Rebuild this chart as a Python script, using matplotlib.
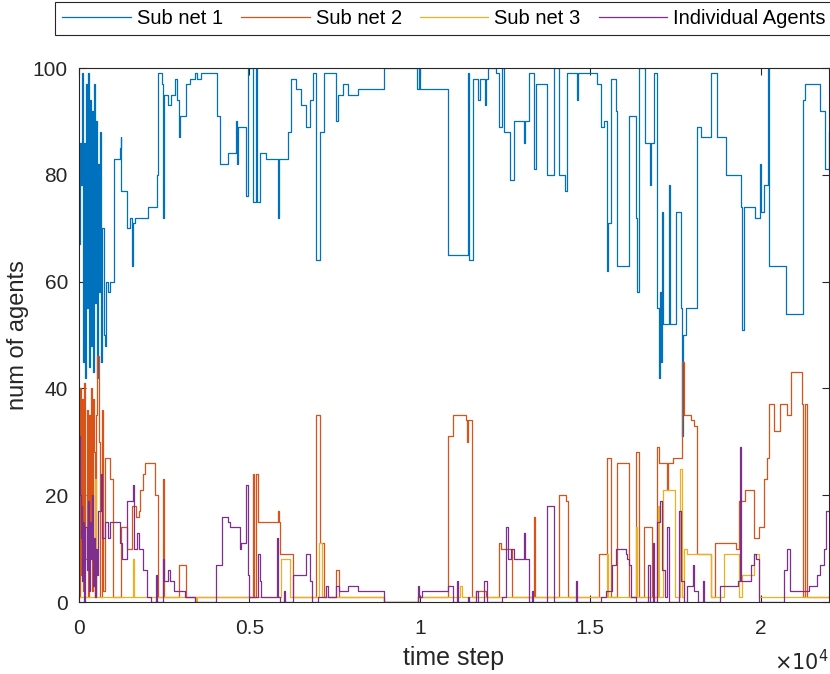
import matplotlib.pyplot as plt
import numpy as np

plt.rcParams['font.family'] = ['Liberation Sans', 'DejaVu Sans']

# (time step, number of agents) change points
subnet1 = [
    (0, 67), (30, 86), (60, 78), (80, 99), (110, 45), (140, 86), (170, 42), (200, 97),
    (230, 55), (260, 99), (290, 44), (320, 94), (350, 48), (380, 92), (410, 43), (440, 97),
    (470, 56), (500, 90), (530, 42), (560, 82), (590, 58), (620, 88), (650, 45), (680, 70),
    (720, 50), (760, 48), (800, 60), (860, 58), (900, 60), (1025, 83), (1200, 85), (1220, 87),
    (1240, 77), (1415, 70), (1500, 72), (1560, 63), (1580, 71), (1640, 72), (2010, 74),
    (2274, 80), (2303, 99), (2440, 97), (2469, 72), (2499, 95), (2600, 93), (2700, 95),
    (2811, 98), (2860, 94), (2928, 87), (2958, 91), (3133, 97), (3250, 98), (3400, 99),
    (3450, 98), (3592, 99), (4060, 91), (4148, 82), (4372, 84), (4600, 90), (4640, 82),
    (4665, 89), (4909, 76), (4958, 100), (5104, 75), (5202, 100), (5231, 75), (5300, 84),
    (5495, 83), (5830, 72), (5860, 83), (6129, 88), (6227, 98), (6373, 96), (6520, 93),
    (6666, 89), (6764, 94), (6861, 99), (6959, 64), (7077, 88), (7174, 99), (7545, 90),
    (7593, 95), (7740, 97), (7886, 95), (8179, 96), (8960, 100), (9900, 96), (9960, 100),
    (10000, 96), (10814, 65), (11400, 99), (11448, 64), (11565, 98), (11700, 94), (11760, 98),
    (11900, 93), (11950, 98), (11985, 100), (12229, 99), (12327, 89), (12405, 100),
    (12473, 88), (12640, 79), (12766, 90), (13059, 86), (13080, 90), (13205, 99), (13352, 81),
    (13401, 97), (13742, 80), (13937, 100), (14084, 80), (14260, 77), (14300, 80),
    (14327, 99), (14601, 94), (14630, 99), (15206, 97), (15304, 89), (15401, 90), (15499, 62),
    (15530, 71), (15616, 98), (15743, 92), (15792, 63), (16133, 91), (16329, 72), (16380, 58),
    (16426, 100), (16593, 86), (16748, 78), (16780, 86), (16865, 99), (16962, 55),
    (17000, 42), (17040, 58), (17080, 45), (17109, 73), (17140, 52), (17304, 78), (17330, 52),
    (17500, 73), (17646, 55), (17700, 31), (17730, 50), (17792, 55), (18134, 89), (18232, 87),
    (18525, 99), (18720, 87), (18964, 80), (19404, 74), (19440, 51), (19501, 74), (19843, 72),
    (19970, 82), (20000, 73), (20086, 78), (20213, 100), (20232, 63), (20740, 54),
    (21236, 94), (21306, 97), (21745, 92), (21891, 81), (22000, 88),
]

subnet2 = [
    (0, 1), (30, 40), (60, 5), (90, 38), (110, 30), (130, 2), (160, 41), (190, 8), (220, 36),
    (250, 1), (280, 35), (310, 12), (340, 40), (370, 2), (400, 38), (430, 28), (460, 1),
    (500, 35), (540, 46), (580, 30), (620, 1), (660, 36), (700, 2), (760, 27), (900, 23),
    (1000, 1), (1230, 14), (1400, 10), (1560, 18), (1680, 16), (1750, 17), (1800, 21),
    (1880, 24), (1950, 26), (2225, 20), (2310, 1), (2460, 23), (2490, 1), (2930, 7),
    (3150, 1), (5100, 24), (5140, 1), (5200, 24), (5250, 15), (5850, 17), (5880, 15),
    (5885, 9), (6275, 1), (6960, 35), (7056, 11), (7200, 1), (7545, 6), (7640, 1),
    (8960, 0), (9936, 1), (10814, 31), (10960, 35), (11350, 34), (11390, 30), (11420, 34),
    (11540, 1), (11645, 2), (11937, 1), (12307, 11), (12376, 10), (12710, 1), (13340, 16),
    (13370, 1), (14084, 20), (14280, 19), (14330, 1), (15255, 9), (15500, 27), (15597, 1),
    (15792, 26), (16130, 1), (16330, 28), (16425, 1), (16570, 14), (16815, 1), (16960, 29),
    (17010, 26), (17250, 21), (17280, 26), (17430, 27), (17690, 45), (17745, 35), (17940, 34),
    (18040, 33), (18130, 9), (18525, 1), (18670, 11), (19260, 10), (19350, 19), (19550, 21),
    (19790, 12), (19940, 14), (20090, 23), (20180, 27), (20230, 37), (20380, 32), (20575, 37),
    (20770, 35), (20885, 43), (21210, 37), (21240, 1), (21306, 37), (21355, 1), (22000, 1),
]

subnet3 = [
    (0, 1), (460, 1), (470, 23), (500, 1), (1590, 8), (1620, 1), (3400, 0), (3420, 1),
    (3440, 0), (3470, 1), (5935, 8), (6180, 1), (7050, 11), (7130, 1), (8960, 0), (9936, 1),
    (11190, 3), (11220, 1), (15490, 9), (15520, 1), (16340, 14), (16380, 1), (16990, 18),
    (17020, 1), (17140, 21), (17470, 1), (17630, 25), (17700, 1), (17745, 10), (17840, 9),
    (18525, 1), (18910, 9), (19350, 1), (19450, 5), (19790, 9), (19940, 1), (22000, 1),
]

individual = [
    (0, 31), (25, 20), (50, 12), (75, 18), (100, 4), (130, 15), (160, 0), (190, 14), (220, 6),
    (250, 19), (280, 2), (310, 15), (340, 8), (370, 20), (400, 3), (430, 12), (460, 1),
    (490, 10), (520, 5), (550, 17), (600, 17), (640, 24), (680, 12), (760, 15), (850, 12),
    (900, 15), (1200, 11), (1250, 8), (1400, 19), (1590, 22), (1610, 10), (1700, 13),
    (1750, 10), (1880, 6), (1980, 1), (2100, 0), (2270, 5), (2300, 0), (2460, 8), (2490, 4),
    (2620, 6), (2680, 4), (2800, 2), (3100, 1), (3400, 0), (4030, 7), (4180, 16), (4370, 15),
    (4420, 14), (4715, 10), (4765, 11), (4910, 22), (4960, 5), (5000, 1), (5250, 9),
    (5300, 4), (5350, 1), (5820, 12), (5850, 1), (5900, 0), (6000, 2), (6030, 0), (6275, 5),
    (6665, 9), (6785, 4), (6830, 0), (7000, 1), (7250, 3), (7300, 1), (7545, 3), (7640, 2),
    (7886, 3), (8180, 2), (8960, 0), (9936, 3), (9960, 1), (10060, 2), (10814, 3),
    (10960, 0), (11100, 4), (11120, 0), (11400, 1), (11430, 0), (11650, 2), (11700, 0),
    (11890, 4), (11980, 0), (12400, 1), (12520, 14), (12570, 8), (12670, 10), (12766, 8),
    (13040, 13), (13080, 8), (13205, 0), (13300, 2), (13320, 0), (13742, 18), (13937, 0),
    (14575, 4), (14600, 0), (15300, 1), (15450, 2), (15645, 7), (15743, 10), (16036, 9),
    (16080, 8), (16130, 7), (16200, 1), (16330, 0), (16700, 7), (16750, 0), (16845, 11),
    (16870, 0), (16950, 15), (17040, 19), (17100, 6), (17200, 1), (17255, 14), (17300, 0),
    (17600, 17), (17650, 4), (17745, 0), (17840, 3), (18000, 7), (18050, 2), (18150, 0),
    (18300, 4), (18330, 0), (18800, 3), (19330, 4), (19390, 29), (19420, 4), (19700, 7),
    (19790, 9), (19850, 8), (19940, 0), (20675, 6), (20770, 10), (20870, 2), (21400, 3),
    (21650, 5), (21745, 7), (21845, 10), (21900, 17), (22000, 17),
]

series_names = ['Sub net 1', 'Sub net 2', 'Sub net 3', 'Individual Agents']
colors = ['#0072BD', '#D95319', '#EDB120', '#7E2F8E']

fig = plt.figure(figsize=(8.3, 6.74), dpi=100)
ax = fig.add_axes([0.0952, 0.1068, 0.9036, 0.7923])

for data, name, c in zip([subnet1, subnet2, subnet3, individual], series_names, colors):
    arr = np.array(data, dtype=float)
    ax.plot(arr[:, 0], arr[:, 1], drawstyle='steps-post', color=c, lw=0.9, label=name)

ax.set_xlim(0, 22000)
ax.set_ylim(0, 100)
ax.set_xticks([0, 5000, 10000, 15000, 20000])
ax.set_xticklabels(['0', '0.5', '1', '1.5', '2'])
ax.set_yticks([0, 20, 40, 60, 80, 100])

grey = '#262626'
ax.tick_params(direction='in', length=5, width=0.8, top=True, right=True,
               labelsize=15, colors=grey)
ax.tick_params(axis='x', pad=12)
ax.tick_params(axis='y', pad=8)
for sp in ax.spines.values():
    sp.set_color(grey)
    sp.set_linewidth(0.8)

ax.set_xlabel('time step', fontsize=18, color=grey, labelpad=6)
ax.set_ylabel('num of agents', fontsize=17, color=grey, labelpad=3)
ax.text(1.0, -0.088, r'$\times10^{4}$', transform=ax.transAxes, ha='right', va='top',
        fontsize=15, color=grey)

leg = fig.legend(loc='upper center', bbox_to_anchor=(0.535, 0.999), ncol=4, fontsize=14.5,
                 frameon=True, fancybox=False, edgecolor=grey, framealpha=1,
                 handlelength=3.4, handletextpad=0.3, columnspacing=0.9,
                 borderpad=0.35, borderaxespad=0.05)
leg.get_frame().set_linewidth(0.8)

fig.savefig('out.png', dpi=100)
